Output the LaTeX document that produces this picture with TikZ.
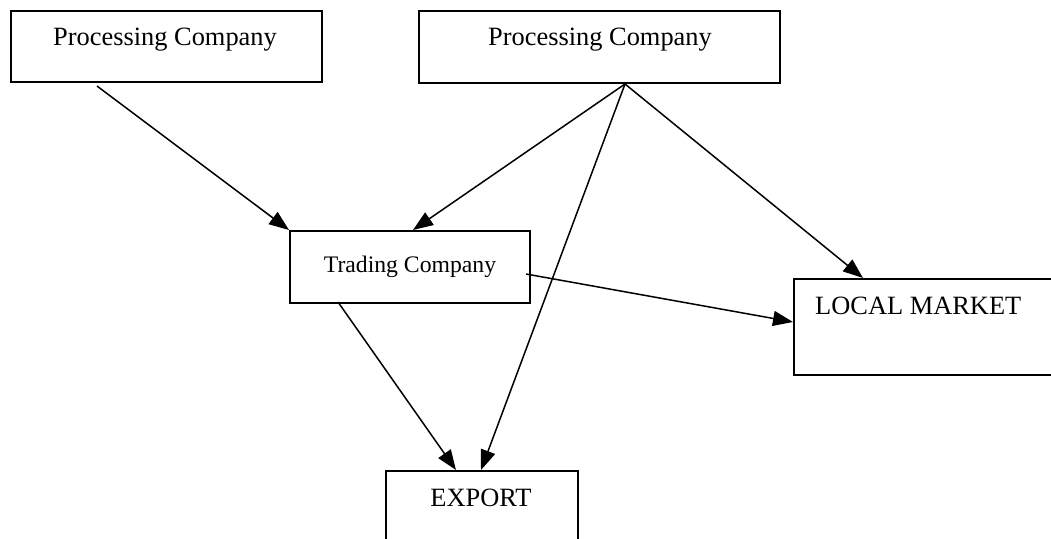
\documentclass[tikz,border=0pt]{standalone}
\usepackage{fontspec}
\setmainfont{Liberation Serif}
\usetikzlibrary{arrows.meta}
\begin{document}
\begin{tikzpicture}[x=1pt,y=-1pt,
  box/.style={draw, line width=2pt, rectangle, inner sep=0pt, anchor=north west},
  lbl/.style={font=\fontsize{26.4}{30}\selectfont, inner sep=0pt, anchor=base},
  lbls/.style={font=\fontsize{23.7}{28}\selectfont, inner sep=0pt, anchor=base},
  arr/.style={line width=1.5pt, -{Triangle[length=20pt,width=15pt]}}]
\useasboundingbox (0,0) rectangle (1051,538);
\clip (0,0) rectangle (1051,538);
\fill[white] (0,0) rectangle (1051,538);
% boxes
\node[box, minimum width=311pt, minimum height=71pt] (pc1) at (10,10) {};
\node[box, minimum width=361pt, minimum height=72pt] (pc2) at (418,10) {};
\node[box, minimum width=240pt, minimum height=72pt] (tr) at (289,230) {};
\node[box, minimum width=300pt, minimum height=96pt] (lm) at (793,278) {};
\node[box, minimum width=192pt, minimum height=100pt] (ex) at (385,470) {};
% labels
\node[lbl] (pc1t) at (165,45) {Processing Company};
\node[lbl] (pc2t) at (600,45) {Processing Company};
\node[lbls] (trt) at (410,272) {Trading Company};
\node[lbl, anchor=base west] (lmt) at (815,314) {LOCAL MARKET};
\node[lbl] (ext) at (481,506) {EXPORT};
% connector end points
\coordinate (s1) at (97,86);
\coordinate (apex) at (625,84);
\coordinate (trin1) at (289,230);
\coordinate (trin2) at (413,230);
\coordinate (trout1) at (526,274);
\coordinate (trout2) at (338,302);
\coordinate (lmin1) at (863,278);
\coordinate (lmin2) at (793,322);
\coordinate (exin1) at (456,470);
\coordinate (exin2) at (481,470);
% connectors
\draw[arr] (s1) -- (trin1);
\draw[arr] (apex) -- (trin2);
\draw[arr] (apex) -- (exin2);
\draw[arr] (apex) -- (lmin1);
\draw[arr] (trout1) -- (lmin2);
\draw[arr] (trout2) -- (exin1);
\end{tikzpicture}
\end{document}
